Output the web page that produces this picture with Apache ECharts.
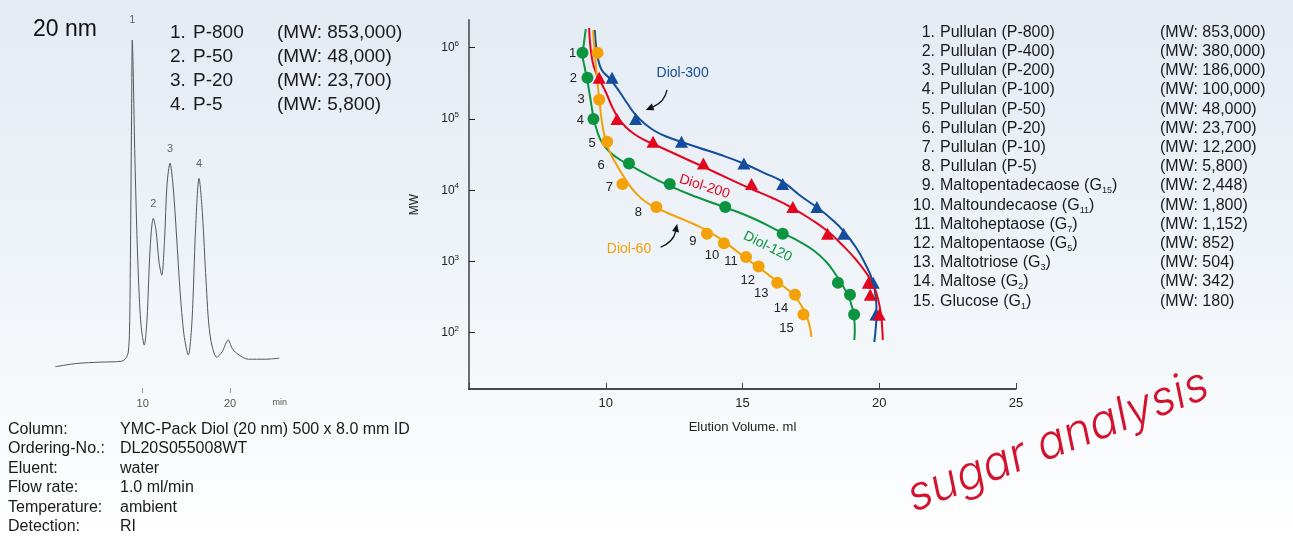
<!DOCTYPE html>
<html><head><meta charset="utf-8">
<script src="https://cdn.jsdelivr.net/npm/echarts@6/dist/echarts.min.js"></script>
<style>
html,body{margin:0;padding:0;background:#fff}
#c{width:1293px;height:540px;background:linear-gradient(to bottom,#e4ebf3 0%,#eef3f8 45%,#f8fafc 78%,#ffffff 100%)}
</style>
</head><body><div id="c"></div>
<script>
// ===== DATA =====
// Standards (numbered 1..15) and their molecular weights
const standardNames = ['Pullulan (P-800)','Pullulan (P-400)','Pullulan (P-200)','Pullulan (P-100)','Pullulan (P-50)','Pullulan (P-20)','Pullulan (P-10)','Pullulan (P-5)','Maltopentadecaose (G_15)','Maltoundecaose (G_11)','Maltoheptaose (G_7)','Maltopentaose (G_5)','Maltotriose (G_3)','Maltose (G_2)','Glucose (G_1)'];
const mwLevels = [853000,380000,186000,100000,48000,23700,12200,5800,2448,1800,1152,852,504,342,180];
const mwTickValues = [100,1000,10000,100000,1000000];
const volTickLabels = [10,15,20,25];

// Calibration points: elution volume (ml) and standard number
const diol300Vol = [10.23,11.09,12.77,15.05,16.47,17.72,18.70,19.78,19.88];
const diol300Std = [2,4,5,6,7,8,9,13,15];
const diol200Vol = [9.76,10.41,11.73,13.57,15.33,16.84,18.11,19.60,19.67,20.00];
const diol200Std = [2,4,5,6,7,8,9,13,14,15];
const diol120Vol = [9.15,9.33,9.55,10.85,12.34,14.37,16.47,18.49,18.93,19.08];
const diol120Std = [1,2,4,6,7,8,9,13,14,15];
const diol60Vol  = [9.70,9.76,10.05,10.61,11.85,13.70,14.32,15.13,15.59,16.27,16.92,17.23];
const diol60Std  = [1,3,5,7,8,9,10,11,12,13,14,15];

// Fitted calibration curves: [ml, MW]
const diol300Fit = [[9.599,1.77e6],[9.653,9.90e5],[9.726,6.72e5],[9.854,4.86e5],[10.036,4.07e5],[10.219,3.41e5],[10.511,2.39e5],[10.803,1.62e5],[11.095,1.14e5],[11.460,8.36e4],[11.825,6.67e4],[12.263,5.58e4],[12.774,4.75e4],[13.431,3.91e4],[14.161,3.17e4],[15.036,2.37e4],[15.803,1.74e4],[16.460,1.32e4],[17.080,8560],[17.701,5810],[18.248,3944],[18.723,2590],[19.161,1545],[19.489,921],[19.745,549],[19.872,317],[19.902,189],[19.872,116],[19.818,74]];
const diol200Fit = [[9.391,1.89e6],[9.434,1.09e6],[9.507,6.72e5],[9.617,4.71e5],[9.781,3.52e5],[10.000,2.39e5],[10.219,1.52e5],[10.438,1.07e5],[10.730,7.71e4],[11.095,5.95e4],[11.460,4.98e4],[11.825,4.31e4],[12.701,3.02e4],[13.577,2.12e4],[14.453,1.48e4],[15.328,1.04e4],[16.095,7770],[16.825,5625],[17.482,3944],[18.102,2676],[18.650,1702],[19.161,1048],[19.526,689],[19.781,467],[19.945,307],[20.055,189],[20.109,116],[20.128,79]];
const diol120Fit = [[9.270,1.83e6],[9.208,1.20e6],[9.161,7.90e5],[9.234,5.19e5],[9.325,3.52e5],[9.434,1.97e5],[9.544,1.10e5],[9.672,7.00e4],[9.854,4.75e4],[10.146,3.44e4],[10.511,2.70e4],[10.876,2.26e4],[11.460,1.69e4],[12.336,1.15e4],[13.321,8025],[14.380,5720],[15.438,3944],[16.460,2507],[17.080,1905],[17.628,1402],[18.066,982],[18.394,667],[18.650,467],[18.869,327],[19.015,222],[19.088,151],[19.106,109],[19.088,79]];
const diol60Fit  = [[9.536,1.77e6],[9.591,9.29e5],[9.653,4.86e5],[9.726,2.55e5],[9.799,1.42e5],[9.872,8.49e4],[9.964,5.58e4],[10.073,4.04e4],[10.219,3.02e4],[10.401,2.26e4],[10.620,1.63e4],[10.876,1.16e4],[11.168,8560],[11.496,6720],[11.861,5625],[12.263,4790],[12.701,4070],[13.212,3355],[13.723,2676],[14.307,1936],[14.781,1402],[15.182,1065],[15.620,809],[16.058,605],[16.460,460],[16.825,349],[17.117,253],[17.336,172],[17.464,120],[17.518,87]];

// Chromatogram (20 nm column)
const chromTime   = [0.0,2.44,5.1,7.6,8.09,8.35,8.49,8.60,8.72,8.81,8.91,9.06,9.29,9.52,9.81,10.18,10.49,10.84,11.21,11.52,11.87,12.18,12.5,12.78,13.13,13.47,13.87,14.27,14.73,15.22,15.65,16.05,16.45,16.85,17.25,17.71,18.48,19.08,19.8,20.23,20.77,22.1,24.0,25.65];
const chromSignal = [0.1,1.1,1.5,1.8,2.8,4.6,11.3,35.8,75.5,100,90.8,69.4,45,26.6,12.8,6.7,14.4,35.8,45.5,41.9,32.1,28.1,38.8,55.7,62.3,55.7,40.4,23.5,9.8,3.7,14.4,41.9,57.7,46.5,26.6,9.8,3.0,4.6,8.3,5.8,4.2,2.4,2.4,2.7];
const chromPeakIndex = [9,18,24,32];
const chromPeakNames = ['P-800','P-50','P-20','P-5'];
const chromPeakMW = [853000,48000,23700,5800];
const chromTimeTicks = [10,20];

const infoLabels = ['Column:','Ordering-No.:','Eluent:','Flow rate:','Temperature:','Detection:'];
const infoValues = ['YMC-Pack Diol (20 nm) 500 x 8.0 mm ID','DL20S055008WT','water','1.0 ml/min','ambient','RI'];

// ===== STYLE / BUILD =====
const FONT = 'Liberation Sans';
const C300 = '#134d9b', C200 = '#e3061f', C120 = '#0d9440', C60 = '#f4a007';
const fmtMW = v => v.toLocaleString('en-US');

// label offsets for the standard numbers (styling)
const greenLabelOffsets = {1:[-10,1],2:[-14,1],4:[-13,1],6:[-28,2]};
const orangeLabelOffsets = {3:[-18,0],5:[-15,2],7:[-13,3],8:[-18,5],9:[-14,8],10:[-12,12],11:[-15,4],12:[-11,14],13:[-16,11],14:[-14,14],15:[-17,14]};

function markers(vols, stds, offsets){
  return vols.map((v,i)=>{
    const n = stds[i];
    const item = {value:[v, mwLevels[n-1]]};
    if (offsets && offsets[n]) item.label = {show:true, formatter:String(n), position:'inside', offset:offsets[n], color:'#222', fontSize:13, fontFamily:FONT, textBorderWidth:0};
    return item;
  });
}
function fitLine(data, color){
  return {type:'line', xAxisIndex:0, yAxisIndex:0, data:data, smooth:0.5, showSymbol:false, symbol:'none',
    lineStyle:{color:color, width:2}, z:2, silent:true, animation:false};
}
function scatter(data, color, sym){
  return {type:'scatter', xAxisIndex:0, yAxisIndex:0, data:data, symbol:sym, symbolSize: sym==='triangle'?[13,12]:12,
    itemStyle:{color:color, opacity:1}, z:3, silent:true, animation:false};
}

const chromData = chromTime.map((t,i)=>{
  const k = chromPeakIndex.indexOf(i);
  const item = {value:[t, chromSignal[i]]};
  if (k>=0) item.label = {show:true, formatter:String(k+1), position:'top', distance: k===0?15:9, color:'#666', fontSize:11, fontFamily:FONT};
  return item;
});

const option = {
  animation:false,
  textStyle:{fontFamily:FONT},
  grid:[
    {left:469, right:277, top:20, bottom:151, containLabel:false, outerBoundsMode:'none'},
    {left:55.4, right:1010.6, top:40, bottom:152, containLabel:false, outerBoundsMode:'none'}
  ],
  xAxis:[
    {type:'value', gridIndex:0, min:5, max:25, interval:5,
     axisLine:{show:true, onZero:false, lineStyle:{color:'#111', width:1.5}},
     axisTick:{show:true, inside:true, length:6, lineStyle:{color:'#444', width:1}},
     axisLabel:{customValues:volTickLabels, color:'#222', fontSize:13, margin:8},
     splitLine:{show:false},
     name:'Elution Volume. ml', nameLocation:'middle', nameGap:32, nameTextStyle:{color:'#222', fontSize:13}},
    {type:'value', gridIndex:1, min:0, max:26,
     axisLine:{show:false, onZero:false},
     axisTick:{show:true, customValues:chromTimeTicks, length:5, lineStyle:{color:'#999'}},
     axisLabel:{customValues:chromTimeTicks.concat([25.7]), color:'#555', fontSize:11, margin:10,
       formatter:v=> v>21 ? '{u|min}' : String(v), rich:{u:{fontSize:9, color:'#555'}}},
     splitLine:{show:false}}
  ],
  yAxis:[
    {type:'log', gridIndex:0, logBase:10, min:16.2, max:2.45e6,
     axisLine:{show:true, onZero:false, lineStyle:{color:'#6d6d6d', width:2}},
     axisTick:{show:true, inside:true, length:6, customValues:mwTickValues, lineStyle:{color:'#222'}},
     axisLabel:{customValues:mwTickValues, color:'#222', fontSize:12, lineHeight:16, margin:10,
       formatter:v=>{const e=Math.round(Math.log10(v)); return Math.abs(Math.log10(v)-e)<1e-6 ? '10{sup|'+e+'}' : '';},
       rich:{sup:{fontSize:8, lineHeight:9, verticalAlign:'top', color:'#222'}}},
     splitLine:{show:false},
     name:'MW', nameLocation:'middle', nameGap:48, nameTextStyle:{color:'#222', fontSize:12}},
    {type:'value', gridIndex:1, min:-6.4, max:100, show:false}
  ],
  series:[
    {type:'line', xAxisIndex:1, yAxisIndex:1, data:chromData, smooth:0.3, showSymbol:true, symbol:'circle', symbolSize:0,
     itemStyle:{color:'#555'}, lineStyle:{color:'#555', width:1}, silent:true, animation:false},
    fitLine(diol300Fit, C300), fitLine(diol200Fit, C200), fitLine(diol120Fit, C120), fitLine(diol60Fit, C60),
    scatter(markers(diol300Vol, diol300Std), C300, 'triangle'),
    scatter(markers(diol200Vol, diol200Std), C200, 'triangle'),
    scatter(markers(diol120Vol, diol120Std, greenLabelOffsets), C120, 'circle'),
    scatter(markers(diol60Vol, diol60Std, orangeLabelOffsets), C60, 'circle')
  ]
};

const chart = echarts.init(document.getElementById('c'), null, {renderer:'canvas'});
chart.setOption(option);

const px = p => chart.convertToPixel({gridIndex:0}, p);
function T(text, x, y, o){
  return {type:'text', x:x, y:y, silent:true, z:10,
    style:Object.assign({text:text, fill:'#1a1a1a', fontSize:16, fontFamily:FONT, align:'left', verticalAlign:'middle'}, o||{})};
}
const g = [];
g.push(T('20 nm', 33, 30, {fontSize:23, fill:'#111'}));
chromPeakNames.forEach((n,i)=>{
  const y = 33 + 24*i;
  g.push(T((i+1)+'.', 170, y, {fontSize:19}));
  g.push(T(n, 193, y, {fontSize:19}));
  g.push(T('(MW: '+fmtMW(chromPeakMW[i])+')', 277, y, {fontSize:19}));
});
standardNames.forEach((n,i)=>{
  const y = 32.3 + 19.2*i;
  g.push(T((i+1)+'.', 935, y, {align:'right'}));
  g.push(T(n.replace(/_(\d+)/, '{sub|$1}'), 940, y, {lineHeight:19, rich:{sub:{fontSize:9, lineHeight:11, verticalAlign:'bottom', fontFamily:FONT, fill:'#1a1a1a'}}}));
  g.push(T('(MW: '+fmtMW(mwLevels[i])+')', 1160, y));
});
infoLabels.forEach((l,i)=>{
  const y = 429.3 + 19.45*i;
  g.push(T(l, 8, y));
  g.push(T(infoValues[i], 120, y));
});
// series name annotations anchored in data space
const ann = [
  ['Diol-300', [12.81, 4.41e5], C300, 0],
  ['Diol-200', [13.61, 1.12e4], C200, -0.31],
  ['Diol-120', [15.92, 1610], C120, -0.46],
  ['Diol-60',  [10.85, 1496], C60, 0]
];
ann.forEach(a=>{
  const p = px(a[1]);
  g.push({type:'text', x:p[0], y:p[1], rotation:a[3], silent:true, z:10,
    style:{text:a[0], fill:a[2], fontSize:14, fontFamily:FONT, align:'center', verticalAlign:'middle'}});
});
// arrows
function arrow(tipData, curve, head){
  const p = px(tipData);
  return {type:'group', x:p[0], y:p[1], silent:true, z:10, children:[
    {type:'bezierCurve', shape:curve, style:{stroke:'#111', lineWidth:1.3, fill:null}},
    {type:'polygon', shape:{points:head}, style:{fill:'#111'}}
  ]};
}
g.push(arrow([11.46, 1.34e5], {x1:21.3,y1:-20,cpx1:19,cpy1:-8,x2:7.4,y2:-3}, [[0,0],[8.7,0.3],[6.1,-6.3]]));
g.push(arrow([12.61, 3360], {x1:-16.5,y1:23.3,cpx1:-3.6,cpy1:17.8,x2:-1.6,y2:7.8}, [[0,0],[1.9,8.5],[-5.1,7.1]]));
// handwritten note
g.push({type:'text', x:1058, y:441, rotation:0.37, silent:true, z:10,
  style:{text:'sugar analysis', fill:'#d3122e', fontSize:47, fontStyle:'italic', fontWeight:300, fontFamily:'Inter', align:'center', verticalAlign:'middle'}});

chart.setOption({graphic:g});
</script>
</body></html>
